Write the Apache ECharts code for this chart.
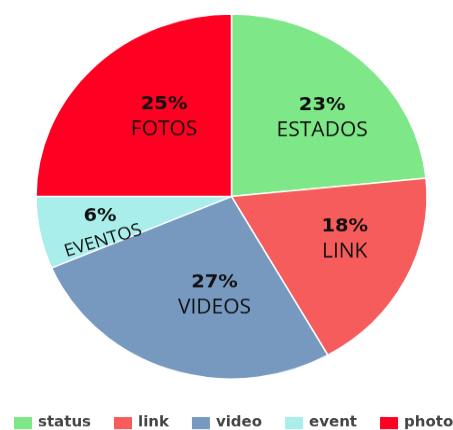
<!DOCTYPE html>
<html>
<head>
<meta charset="utf-8">
<script src="https://cdn.jsdelivr.net/npm/echarts@6/dist/echarts.min.js"></script>
<style>
	html, body { margin: 0; padding: 0; overflow: hidden; background: #fff; }
	/* the source picture is squashed vertically, so the chart is too */
	#pieChart { width: 453px; height: 461px; transform: scaleY(0.933); transform-origin: 0 0; }
</style>
</head>
<body>
<div id="pieChart"></div>
<script>
var names = ['status', 'link', 'video', 'event', 'photo'];
var labelNames = ['ESTADOS', 'LINK', 'VIDEOS', 'EVENTOS', 'FOTOS'];
var shares = [23.4, 18.4, 26.8, 6.4, 25.0];
var colors = ['#7ee787', '#f65c5c', '#7799c0', '#a9eeeb', '#ff0022'];

var center = [231.5, 210.6];
var labelCenter = [231.5, 214.1];
var R = 195.5;

// where each label sits: slice index, what to show, angle shift from the slice middle (deg, clockwise), distance from centre
var spots = [
	{ idx: 0, show: 'both', shift: 3.9, dist: 123 },
	{ idx: 1, show: 'both', shift: -6.7, dist: 118 },
	{ idx: 2, show: 'both', shift: -9.3, dist: 101 },
	{ idx: 4, show: 'both', shift: 7.6, dist: 108 },
	{ idx: 3, show: 'pct', shift: 3.6, dist: 129.7 },
	{ idx: 3, show: 'name', shift: -7.4, dist: 132.7, rotate: 17.5 }
];

var pieChart = echarts.init(document.getElementById('pieChart'));

var rich = {
	p: { fontFamily: 'DejaVu Sans', fontWeight: 'bold', fontSize: 19.5, lineHeight: 27, color: '#111' },
	n: { fontFamily: 'Open Sans', fontSize: 21, lineHeight: 27, color: '#111' },
	e: { fontFamily: 'Open Sans', fontSize: 18.5, lineHeight: 27, color: '#111' }
};

function labelText(show, i) {
	var p = Math.round(shares[i]) + '%';
	if (show == 'pct') return '{p|' + p + '}';
	if (show == 'name') return '{e|' + labelNames[i] + '}';
	return '{p|' + p + '}\n{n|' + labelNames[i] + '}';
}

var mainData = [];
for (var i = 0; i < names.length; i++) {
	mainData.push({ name: names[i], value: shares[i], itemStyle: { color: colors[i] } });
}

var series = [{
	type: 'pie',
	center: center,
	radius: R,
	startAngle: 90,
	clockwise: true,
	silent: true,
	itemStyle: { borderColor: '#fff', borderWidth: 1.5 },
	label: { show: false },
	labelLine: { show: false },
	data: mainData
}];

// one invisible ring per label, turned a little so the label lands where the picture has it
spots.forEach(function(s) {
	var data = [];
	for (var i = 0; i < names.length; i++) {
		data.push({ name: names[i], value: shares[i], label: { show: i == s.idx } });
	}
	series.push({
		type: 'pie',
		center: labelCenter,
		radius: [2 * s.dist - R, R],
		startAngle: 90 - s.shift,
		clockwise: true,
		silent: true,
		avoidLabelOverlap: false,
		labelLayout: { hideOverlap: false },
		itemStyle: { color: 'rgba(0,0,0,0)', borderWidth: 0 },
		emphasis: { disabled: true },
		label: {
			show: true,
			position: 'inside',
			rotate: s.rotate || 0,
			rich: rich,
			formatter: labelText(s.show, s.idx)
		},
		labelLine: { show: false },
		data: data
	});
});

var option = {
	animation: false,
	legend: {
		data: names,
		left: 12,
		top: 445,
		padding: 0,
		width: 700,
		itemWidth: 20,
		itemHeight: 15,
		itemGap: 21,
		icon: 'rect',
		textStyle: { fontFamily: 'DejaVu Sans', fontWeight: 'bold', fontSize: 15, color: '#444' }
	},
	series: series
};

pieChart.setOption(option);
</script>
</body>
</html>
